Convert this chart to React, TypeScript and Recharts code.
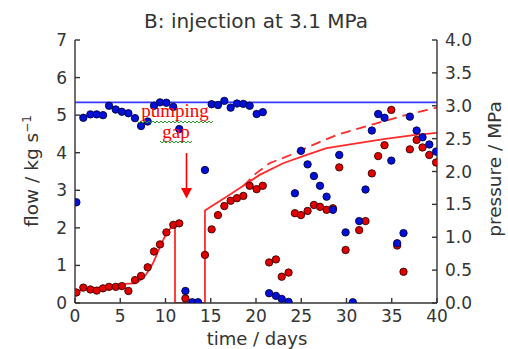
import React from 'react';
import { ComposedChart, Line, Scatter, XAxis, YAxis } from 'recharts';

// measurement times (days)
const days = [0.15, 0.92, 1.7, 2.4, 3.1, 3.76, 4.5, 5.18, 5.9, 6.63, 7.3, 8.03, 8.73, 9.39, 10.1, 10.86, 11.52, 12.2, 12.96, 13.6, 14.36, 15.1, 15.8, 16.5, 17.2, 17.9, 18.6, 19.3, 20.07, 20.75, 21.45, 22.2, 22.84, 23.6, 24.3, 24.97, 25.7, 26.4, 27.07, 27.8, 28.5, 29.2, 29.9, 30.7, 31.4, 32.1, 32.8, 33.5, 34.2, 34.95, 35.6, 36.3, 37.0, 37.75, 38.4, 39.15, 39.9];
// blue points (plotted in flow-axis units)
const blueValues = [2.68, 4.93, 5.02, 5.02, 5.0, 5.25, 5.15, 5.09, 5.05, 4.92, 4.71, 4.83, 5.25, 5.34, 5.33, 5.22, 4.63, 0.32, 0.02, 0.02, 3.54, 5.29, 5.27, 5.38, 5.2, 5.31, 5.3, 5.25, 5.03, 5.08, 0.26, 0.19, 0.11, 0.03, 2.92, 4.05, 3.69, 3.38, 3.12, 2.83, 2.48, 3.94, 1.88, 0.02, 2.18, 3.02, 4.59, 5.03, 4.93, 3.79, 1.59, 1.86, 4.96, 4.59, 4.41, 4.22, 4.03];
// red points: measured flow
const redValues: (number | null)[] = [0.28, 0.41, 0.36, 0.33, 0.39, 0.43, 0.43, 0.45, 0.32, 0.61, 0.72, 0.95, 1.37, 1.56, 1.88, 2.08, 2.12, 0.12, null, null, 1.28, 1.96, 2.34, 2.58, 2.72, 2.79, 2.85, 3.12, 3.03, 3.12, 1.08, 1.16, 0.7, 0.81, 2.39, 2.34, 2.45, 2.61, 2.56, 2.48, 2.52, 3.61, 1.41, null, 1.94, 2.18, 3.45, 3.91, 4.2, 5.14, 1.53, 0.83, 4.09, 4.34, 4.14, 3.94, 3.74];

// model flow (solid red)
const modelDays = [0, 1.5, 3, 4, 5, 6.5, 7, 7.6, 8.2, 8.7, 9.4, 10.1, 10.7, 11.05, 11.05, 14.36, 14.36, 15.3, 16.75, 18.6, 20.4, 23, 25.6, 27.8, 30.4, 34.1, 37.4, 40];
const modelFlow = [0.3, 0.37, 0.42, 0.47, 0.5, 0.52, 0.57, 0.68, 0.88, 1.1, 1.5, 1.86, 2.03, 2.1, 0, 0, 2.46, 2.61, 2.83, 3.12, 3.41, 3.72, 3.94, 4.12, 4.22, 4.36, 4.47, 4.53];
// alternative model (dashed red)
const dashDays = [18.6, 20, 21.5, 23.8, 26.7, 28.9, 31.1, 33.3, 35.9, 38.9, 40];
const dashFlow = [3.12, 3.45, 3.72, 3.94, 4.25, 4.47, 4.63, 4.78, 4.96, 5.14, 5.2];

// injection pressure line (MPa), from day 0 to day 40
const injDays = [0, 40];
const injPressure = [3.05, 3.05];

const xTicks = [0, 5, 10, 15, 20, 25, 30, 35, 40];
const flowTicks = [0, 1, 2, 3, 4, 5, 6, 7];
const pressureTicks = [0, 0.5, 1, 1.5, 2, 2.5, 3, 3.5, 4];

const bluePts = days.map((x, i) => ({ x, y: blueValues[i] }));
const redPts = days
  .map((x, i) => ({ x, y: redValues[i] }))
  .filter((p) => p.y !== null) as { x: number; y: number }[];
const modelPts = modelDays.map((x, i) => ({ x, y: modelFlow[i] }));
const dashPts = dashDays.map((x, i) => ({ x, y: dashFlow[i] }));
const injPts = injDays.map((x, i) => ({ x, y: injPressure[i] }));

const FONT = '"DejaVu Sans", sans-serif';
const TXT = '#333';
const tickStyle = { fontSize: 17, fill: TXT, fontFamily: FONT };
const axisLine = { stroke: '#333', strokeWidth: 1.4 };

const RedDot = (p: any) => (
  <circle cx={p.cx} cy={p.cy} r={3.7} fill="#e00000" stroke="#3a0000" strokeWidth={0.9} />
);
const BlueDot = (p: any) => (
  <circle cx={p.cx} cy={p.cy} r={3.7} fill="#0010d8" stroke="#000040" strokeWidth={0.9} />
);

export default function App() {
  return (
    <div style={{ position: 'absolute', left: 0, top: 0, width: 508, height: 349, background: '#fff' }}>
      <ComposedChart width={508} height={349} margin={{ top: 40, right: 21, bottom: 16, left: 25 }}>
        <XAxis
          dataKey="x"
          type="number"
          domain={[0, 40]}
          ticks={xTicks}
          height={30}
          tickSize={-5}
          tickMargin={12}
          tick={tickStyle}
          axisLine={axisLine}
          tickLine={axisLine}
          allowDataOverflow
        />
        <XAxis
          xAxisId="top"
          orientation="top"
          dataKey="x"
          type="number"
          domain={[0, 40]}
          ticks={xTicks}
          height={0}
          tickSize={-5}
          tickFormatter={() => ''}
          axisLine={axisLine}
          tickLine={axisLine}
        />
        <YAxis
          yAxisId="left"
          type="number"
          domain={[0, 7]}
          ticks={flowTicks}
          width={50}
          tickSize={-5}
          tickMargin={13}
          tick={tickStyle}
          axisLine={axisLine}
          tickLine={axisLine}
          allowDataOverflow
        />
        <YAxis
          yAxisId="right"
          orientation="right"
          type="number"
          domain={[0, 4]}
          ticks={pressureTicks}
          width={50}
          tickSize={-5}
          tickMargin={13}
          tickFormatter={(v: number) => v.toFixed(1)}
          tick={tickStyle}
          axisLine={axisLine}
          tickLine={axisLine}
        />
        <Line
          xAxisId="top"
          yAxisId="right"
          data={injPts}
          dataKey="y"
          type="linear"
          stroke="#3838ff"
          strokeWidth={1.7}
          dot={false}
          isAnimationActive={false}
        />
        <Line
          yAxisId="left"
          data={modelPts}
          dataKey="y"
          type="linear"
          stroke="#ff2a2a"
          strokeWidth={1.8}
          dot={false}
          isAnimationActive={false}
        />
        <Line
          yAxisId="left"
          data={dashPts}
          dataKey="y"
          type="linear"
          stroke="#ff2a2a"
          strokeWidth={1.8}
          strokeDasharray="10 6"
          dot={false}
          isAnimationActive={false}
        />
        <Scatter yAxisId="left" data={redPts} dataKey="y" shape={RedDot} isAnimationActive={false} />
        <Scatter yAxisId="left" data={bluePts} dataKey="y" shape={BlueDot} isAnimationActive={false} />
      </ComposedChart>
      <svg
        width={508}
        height={349}
        style={{ position: 'absolute', left: 0, top: 0, pointerEvents: 'none' }}
      >
        <text x={256} y={28} textAnchor="middle" fontFamily={FONT} fontSize={20} fill={TXT}>
          B: injection at 3.1 MPa
        </text>
        <text
          transform="translate(38,171) rotate(-90)"
          textAnchor="middle"
          fontFamily={FONT}
          fontSize={18.5}
          fill={TXT}
        >
          flow / kg s<tspan dy={-7} fontSize={12}>−1</tspan>
        </text>
        <text
          transform="translate(501,169) rotate(-90)"
          textAnchor="middle"
          fontFamily={FONT}
          fontSize={18.5}
          fill={TXT}
        >
          pressure / MPa
        </text>
        <text x={257} y={344.5} textAnchor="middle" fontFamily={FONT} fontSize={18} fill={TXT}>
          time / days
        </text>
        <text
          x={175}
          y={117}
          textAnchor="middle"
          fontFamily='"Liberation Serif", serif'
          fontSize={19}
          fill="#ff0000"
        >
          pumping
        </text>
        <text
          x={176}
          y={138}
          textAnchor="middle"
          fontFamily='"Liberation Serif", serif'
          fontSize={19}
          fill="#ff0000"
        >
          gap
        </text>
        <polyline
          points="137,121 139,123 141,121 143,123 145,121 147,123 149,121 151,123 153,121 155,123 157,121 159,123 161,121 163,123 165,121 167,123 169,121 171,123 173,121 175,123 177,121 179,123 181,121 183,123 185,121 187,123 189,121 191,123 193,121 195,123 197,121 199,123 201,121 203,123 205,121 207,123 209,121 211,123 213,121"
          fill="none"
          stroke="#2a9a2a"
          strokeWidth={1}
        />
        <polyline
          points="160,141 162,143 164,141 166,143 168,141 170,143 172,141 174,143 176,141 178,143 180,141 182,143 184,141 186,143 188,141 190,143 192,141"
          fill="none"
          stroke="#2a9a2a"
          strokeWidth={1}
        />
        <line x1={186.5} y1={153} x2={186.5} y2={190} stroke="#ff0000" strokeWidth={1.6} />
        <polygon points="181,188 192,188 186.5,198.5" fill="#ff0000" />
      </svg>
    </div>
  );
}
